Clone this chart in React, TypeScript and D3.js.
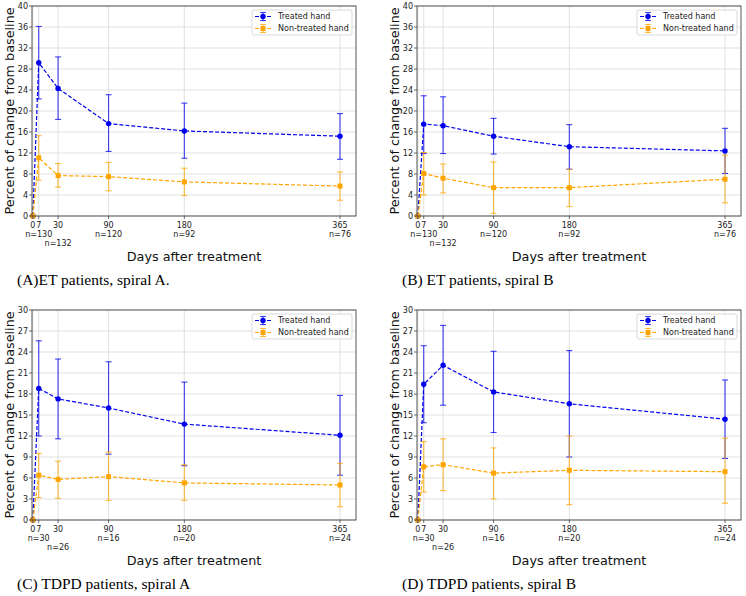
import * as d3 from "d3";

const days = [0, 7, 30, 90, 180, 365];
const nRow = [0, 1, 2, 1, 1, 1];

const nET = ["", "n=130", "n=132", "n=120", "n=92", "n=76"];
const nTDPD = ["", "n=30", "n=26", "n=16", "n=20", "n=24"];

// (A) ET, spiral A
const aTreated = [0, 29.2, 24.3, 17.6, 16.2, 15.2];
const aTreatedLo = [0, 22.3, 18.4, 12.3, 11.0, 10.8];
const aTreatedHi = [0, 36.1, 30.3, 23.1, 21.5, 19.5];
const aNon = [0, 11.1, 7.7, 7.5, 6.5, 5.7];
const aNonLo = [0, 6.8, 5.5, 4.8, 3.9, 3.0];
const aNonHi = [0, 15.3, 10.0, 10.2, 9.1, 8.4];

// (B) ET, spiral B
const bTreated = [0, 17.5, 17.2, 15.2, 13.2, 12.4];
const bTreatedLo = [0, 11.9, 11.9, 11.8, 8.9, 8.1];
const bTreatedHi = [0, 22.9, 22.7, 18.6, 17.4, 16.7];
const bNon = [0, 8.1, 7.2, 5.4, 5.4, 7.0];
const bNonLo = [0, 4.0, 4.4, 0.5, 1.8, 2.5];
const bNonHi = [0, 12.1, 9.9, 10.3, 8.9, 11.6];

// (C) TDPD, spiral A
const cTreated = [0, 18.8, 17.3, 16.0, 13.7, 12.1];
const cTreatedLo = [0, 12.0, 11.6, 9.4, 7.75, 6.4];
const cTreatedHi = [0, 25.6, 23.0, 22.6, 19.7, 17.8];
const cNon = [0, 6.4, 5.8, 6.2, 5.3, 5.0];
const cNonLo = [0, 3.2, 3.1, 2.8, 2.8, 1.9];
const cNonHi = [0, 9.5, 8.4, 9.7, 7.9, 8.1];

// (D) TDPD, spiral B
const dTreated = [0, 19.4, 22.1, 18.3, 16.6, 14.4];
const dTreatedLo = [0, 13.9, 16.4, 12.5, 9.0, 8.8];
const dTreatedHi = [0, 24.9, 27.8, 24.1, 24.2, 20.0];
const dNon = [0, 7.6, 7.9, 6.7, 7.1, 6.9];
const dNonLo = [0, 4.0, 4.2, 3.0, 2.2, 2.4];
const dNonHi = [0, 11.2, 11.6, 10.3, 12.0, 11.7];

const BLUE = "#0000ee";
const ORANGE = "#ffa500";
const FONT = "DejaVu Sans, sans-serif";

type PanelProps = {
  ox: number;
  oy: number;
  yMax: number;
  yStep: number;
  treated: number[];
  tLo: number[];
  tHi: number[];
  non: number[];
  nLo: number[];
  nHi: number[];
  nLabels: string[];
  caption: string;
};

function Panel({ ox, oy, yMax, yStep, treated, tLo, tHi, non, nLo, nHi, nLabels, caption }: PanelProps) {
  const left = ox + 32;
  const right = ox + 356;
  const top = oy + 6;
  const bottom = oy + 216;

  const x = d3.scaleLinear().domain([-1, 384]).range([left, right]);
  const y = d3.scaleLinear().domain([0, yMax]).range([bottom, top]);
  const yTicks = d3.range(0, yMax + 0.001, yStep);

  const line = d3
    .line<number>()
    .x((_, i) => x(days[i]))
    .y((d) => y(d));

  const series = [
    { v: treated, lo: tLo, hi: tHi, color: BLUE, marker: "circle" },
    { v: non, lo: nLo, hi: nHi, color: ORANGE, marker: "square" },
  ];

  const lx = ox + 252;
  const ly = oy + 10;

  return (
    <g>
      {/* grid */}
      {yTicks.map((t) => (
        <line key={"gy" + t} x1={left} x2={right} y1={y(t)} y2={y(t)} stroke="#d9d9d9" strokeWidth={0.8} />
      ))}
      {days.map((d) => (
        <line key={"gx" + d} x1={x(d)} x2={x(d)} y1={top} y2={bottom} stroke="#d9d9d9" strokeWidth={0.8} />
      ))}

      {/* series */}
      {series.map((s, si) => (
        <g key={si}>
          <path d={line(s.v) || ""} fill="none" stroke={s.color} strokeWidth={1.2} strokeDasharray="4,2" />
          {s.v.map((v, i) => {
            const cx = x(days[i]);
            return (
              <g key={i} stroke={s.color} strokeOpacity={0.75} strokeWidth={1.1}>
                <line x1={cx} x2={cx} y1={y(s.lo[i])} y2={y(s.hi[i])} />
                <line x1={cx - 3} x2={cx + 3} y1={y(s.lo[i])} y2={y(s.lo[i])} />
                <line x1={cx - 3} x2={cx + 3} y1={y(s.hi[i])} y2={y(s.hi[i])} />
              </g>
            );
          })}
          {s.v.map((v, i) =>
            s.marker === "circle" ? (
              <circle key={"m" + i} cx={x(days[i])} cy={y(v)} r={2.7} fill={s.color} />
            ) : (
              <rect key={"m" + i} x={x(days[i]) - 2.5} y={y(v) - 2.5} width={5} height={5} fill={s.color} />
            )
          )}
        </g>
      ))}

      {/* spines */}
      <rect x={left} y={top} width={right - left} height={bottom - top} fill="none" stroke="#444" strokeWidth={0.9} />

      {/* y ticks */}
      {yTicks.map((t) => (
        <g key={"yt" + t}>
          <line x1={left - 3} x2={left} y1={y(t)} y2={y(t)} stroke="#444" strokeWidth={0.8} />
          <text x={left - 4} y={y(t)} dy="0.35em" textAnchor="end" fontSize={8} fontFamily={FONT} fill="#222">
            {t}
          </text>
        </g>
      ))}

      {/* x ticks */}
      {days.map((d, i) => (
        <g key={"xt" + d}>
          <line x1={x(d)} x2={x(d)} y1={bottom} y2={bottom + 3} stroke="#444" strokeWidth={0.8} />
          <text x={x(d)} y={bottom + 12} textAnchor="middle" fontSize={8} fontFamily={FONT} fill="#222">
            {d}
          </text>
          {nLabels[i] && (
            <text
              x={x(d)}
              y={bottom + (nRow[i] === 2 ? 29.5 : 20.5)}
              textAnchor="middle"
              fontSize={8}
              fontFamily={FONT}
              fill="#222"
            >
              {nLabels[i]}
            </text>
          )}
        </g>
      ))}

      {/* axis titles */}
      <text
        transform={`translate(${ox + 9},${(top + bottom) / 2}) rotate(-90)`}
        textAnchor="middle"
        dominantBaseline="central"
        fontSize={12.8}
        fontFamily={FONT}
        fill="#111"
      >
        Percent of change from baseline
      </text>
      <text x={(left + right) / 2} y={oy + 261} textAnchor="middle" fontSize={12.8} fontFamily={FONT} fill="#111">
        Days after treatment
      </text>

      {/* legend */}
      <rect x={lx} y={ly} width={100} height={25} rx={2} fill="white" fillOpacity={0.85} stroke="#d0d0d0" strokeWidth={0.8} />
      {series.map((s, si) => {
        const yy = ly + 6.5 + si * 12;
        const mx = lx + 11;
        return (
          <g key={"lg" + si}>
            <line x1={lx + 3} x2={lx + 19} y1={yy} y2={yy} stroke={s.color} strokeWidth={1.2} strokeDasharray="4,2" />
            <g stroke={s.color} strokeOpacity={0.75} strokeWidth={1.1}>
              <line x1={mx} x2={mx} y1={yy - 4} y2={yy + 4} />
              <line x1={mx - 3} x2={mx + 3} y1={yy - 4} y2={yy - 4} />
              <line x1={mx - 3} x2={mx + 3} y1={yy + 4} y2={yy + 4} />
            </g>
            {s.marker === "circle" ? (
              <circle cx={mx} cy={yy} r={2.7} fill={s.color} />
            ) : (
              <rect x={mx - 2.5} y={yy - 2.5} width={5} height={5} fill={s.color} />
            )}
            <text x={lx + 26} y={yy} dy="0.35em" fontSize={8} fontFamily={FONT} fill="#222">
              {si === 0 ? "Treated hand" : "Non-treated hand"}
            </text>
          </g>
        );
      })}

      {/* caption */}
      <text x={ox + 17} y={oy + 285} fontSize={15.5} fontFamily="Liberation Serif, Times New Roman, serif" fill="#000">
        {caption}
      </text>
    </g>
  );
}

export default function App() {
  return (
    <div style={{ position: "absolute", left: 0, top: 0 }}>
      <svg width={746} height={596} viewBox="0 0 746 596" style={{ display: "block", background: "white" }}>
        <rect width={746} height={596} fill="white" />
        <Panel ox={0} oy={0} yMax={40} yStep={4} treated={aTreated} tLo={aTreatedLo} tHi={aTreatedHi}
          non={aNon} nLo={aNonLo} nHi={aNonHi} nLabels={nET} caption="(A)ET patients, spiral A." />
        <Panel ox={385} oy={0} yMax={40} yStep={4} treated={bTreated} tLo={bTreatedLo} tHi={bTreatedHi}
          non={bNon} nLo={bNonLo} nHi={bNonHi} nLabels={nET} caption="(B) ET patients, spiral B" />
        <Panel ox={0} oy={304} yMax={30} yStep={3} treated={cTreated} tLo={cTreatedLo} tHi={cTreatedHi}
          non={cNon} nLo={cNonLo} nHi={cNonHi} nLabels={nTDPD} caption="(C) TDPD patients, spiral A" />
        <Panel ox={385} oy={304} yMax={30} yStep={3} treated={dTreated} tLo={dTreatedLo} tHi={dTreatedHi}
          non={dNon} nLo={dNonLo} nHi={dNonHi} nLabels={nTDPD} caption="(D) TDPD patients, spiral B" />
      </svg>
    </div>
  );
}
